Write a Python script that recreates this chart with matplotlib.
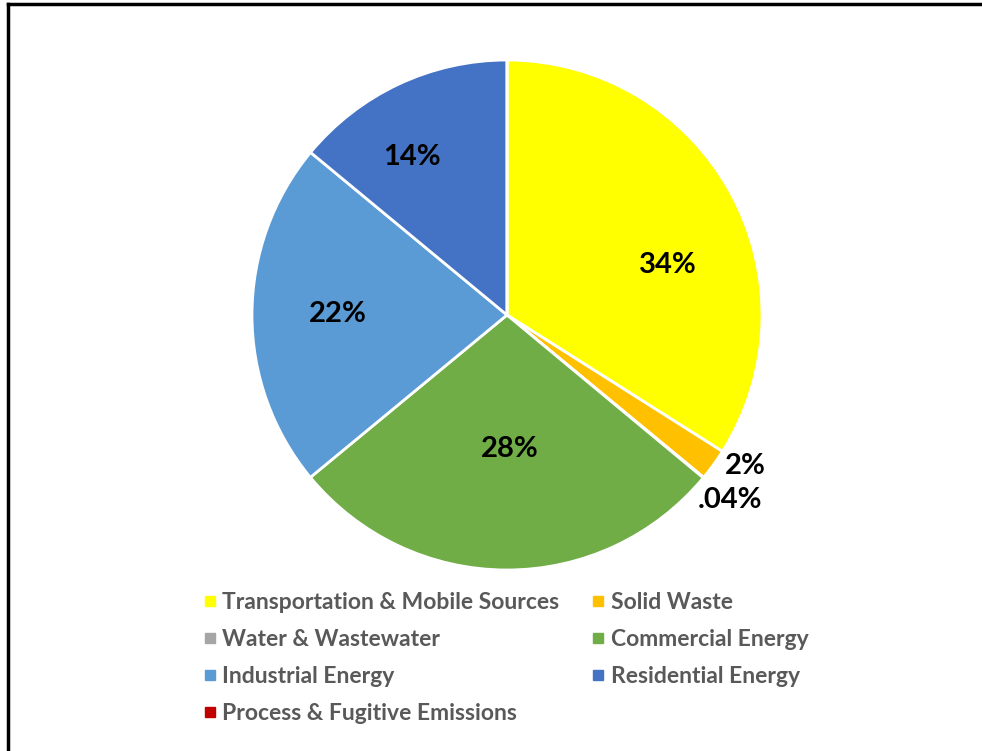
import matplotlib.pyplot as plt
from matplotlib.lines import Line2D

# emission sources, clockwise from 12 o'clock
sources = ['Transportation & Mobile Sources', 'Solid Waste', 'Water & Wastewater',
           'Commercial Energy', 'Industrial Energy', 'Residential Energy',
           'Process & Fugitive Emissions']
shares = [34, 2, 0.04, 28, 22, 14, 0.0]
pct_labels = ['34%', '2%', '.04%', '28%', '22%', '14%', '']

colors = ['#FFFF00', '#FFC000', '#A5A5A5', '#70AD47', '#5B9BD5', '#4472C4', '#C00000']
# where each percentage sits (pie radius = 1)
label_pos = [(0.631, 0.196), (0.933, -0.592), (0.875, -0.725), (0.012, -0.525),
             (-0.663, 0.004), (-0.373, 0.620), None]

plt.rcParams['font.family'] = ['Lato', 'DejaVu Sans']

fig = plt.figure(figsize=(9.82, 7.51), dpi=100)
ax = fig.add_axes([252 / 982, 181 / 751, 510 / 982, 510 / 751])

wedges, _ = ax.pie(shares, colors=colors, startangle=90, counterclock=False,
                   wedgeprops=dict(edgecolor='white', linewidth=2))
ax.set_xlim(-1, 1)
ax.set_ylim(-1, 1)
ax.axis('off')

for txt, pos in zip(pct_labels, label_pos):
    if pos is None:
        continue
    ax.text(pos[0], pos[1], txt, ha='center', va='center',
            fontsize=21, fontweight='bold', color='black')

# legend filled column by column, so order the entries to read row by row
order = [0, 2, 4, 6, 1, 3, 5]
handles = [Line2D([], [], marker='s', linestyle='none', markersize=7,
                  markerfacecolor=colors[i], markeredgecolor=colors[i]) for i in order]
leg = fig.legend(handles, [sources[i] for i in order], ncol=2,
                 loc='upper left', bbox_to_anchor=(204 / 982, 1 - 592 / 751),
                 frameon=False, fontsize=16.5, handlelength=0.5, handletextpad=0.3,
                 columnspacing=1.45, labelspacing=0.7, borderpad=0, borderaxespad=0)
for t in leg.get_texts():
    t.set_color('#595959')
    t.set_fontweight('bold')

# frame round the image
fig.add_artist(Line2D([8 / 982, 1], [1 - 4 / 751, 1 - 4 / 751], color='black', linewidth=2.5,
                      transform=fig.transFigure))
fig.add_artist(Line2D([8 / 982, 8 / 982], [0, 1 - 4 / 751], color='black', linewidth=2.5,
                      transform=fig.transFigure))

fig.savefig('out.png', dpi=100)
